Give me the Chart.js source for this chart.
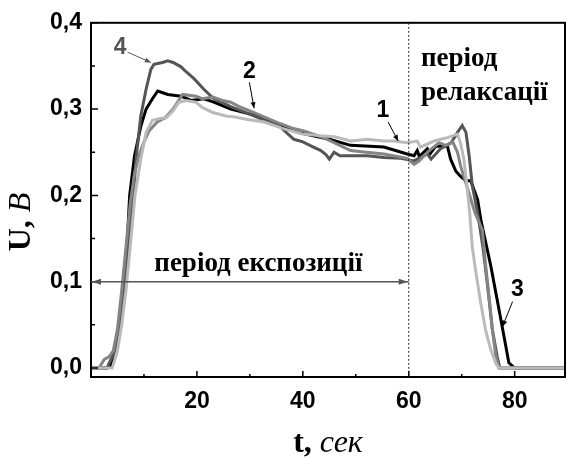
<!DOCTYPE html>
<html>
<head>
<meta charset="utf-8">
<script src="https://cdn.jsdelivr.net/npm/chart.js@4.4.0/dist/chart.umd.min.js"></script>
<style>
  body { margin: 0; background: #fff; }
  canvas { display: block; }
</style>
</head>
<body>
<canvas id="chart" width="566" height="459"></canvas>
<script>
// curve 1 (light gray)
const t1 = [0, 4, 5, 5.8, 6.6, 7.4, 8.3, 9.4, 10.4, 11.6, 13, 14.2, 15.5, 16.6, 18, 19.8, 21, 23, 25.5, 27, 29.6, 32.7, 36, 40, 43.4, 46, 49, 52.2, 55.3, 57.2, 59.7, 61.6, 62.2, 64.8, 67.3, 69.2, 69.8, 70.4, 70.8, 71.5, 72, 72.6, 73.6, 74.5, 75.5, 76.4, 77, 90];
const u1 = [0, 0, 0.02, 0.05, 0.09, 0.14, 0.2, 0.242, 0.273, 0.287, 0.289, 0.29, 0.298, 0.308, 0.31, 0.308, 0.302, 0.296, 0.292, 0.291, 0.288, 0.285, 0.278, 0.271, 0.269, 0.268, 0.263, 0.265, 0.263, 0.263, 0.261, 0.263, 0.256, 0.263, 0.267, 0.271, 0.26, 0.242, 0.222, 0.18, 0.14, 0.114, 0.075, 0.044, 0.021, 0.006, 0, 0];

// curve 2 (medium gray)
const t2 = [0, 1.5, 2.5, 3.4, 4.2, 5, 5.8, 6.6, 7.4, 8.2, 9, 10, 11, 12.5, 14, 15.5, 17.3, 19.8, 21, 23, 24.8, 26.4, 28, 30.8, 33, 35.8, 38, 40, 43.4, 45.3, 49, 52, 55.3, 59.7, 61, 62, 63.5, 65.7, 67, 68.3, 69.2, 69.8, 71, 72.5, 73.9, 74.5, 75.2, 75.8, 76.4, 77, 90];
const u2 = [0, 0, 0.01, 0.013, 0.02, 0.045, 0.09, 0.14, 0.19, 0.225, 0.245, 0.262, 0.275, 0.285, 0.29, 0.3, 0.317, 0.315, 0.312, 0.314, 0.31, 0.308, 0.303, 0.296, 0.29, 0.283, 0.278, 0.275, 0.268, 0.263, 0.252, 0.25, 0.248, 0.243, 0.236, 0.24, 0.25, 0.261, 0.258, 0.262, 0.25, 0.234, 0.21, 0.18, 0.16, 0.12, 0.08, 0.044, 0.015, 0, 0];

// curve 3 (black)
const t3 = [0, 3, 3.8, 4.7, 5.7, 6.6, 7.3, 8.2, 9.4, 10.4, 11.6, 12.6, 14.5, 17, 18.9, 21.3, 23.2, 26.4, 30.8, 34.5, 39, 45, 49, 55.3, 59.7, 61, 61.6, 62, 63.5, 64, 65.1, 67.3, 67.9, 68.9, 69.8, 70.8, 71.7, 73, 73.6, 75.5, 77.4, 78.9, 80, 90];
const u3 = [0, 0, 0.002, 0.03, 0.067, 0.118, 0.2, 0.245, 0.28, 0.3, 0.312, 0.321, 0.317, 0.315, 0.31, 0.312, 0.308, 0.3, 0.293, 0.283, 0.273, 0.265, 0.258, 0.256, 0.248, 0.246, 0.252, 0.245, 0.254, 0.248, 0.257, 0.257, 0.242, 0.228, 0.222, 0.217, 0.217, 0.195, 0.172, 0.118, 0.056, 0.006, 0, 0];

// curve 4 (dark gray)
const t4 = [0, 3, 4.5, 5.5, 6.3, 7.2, 8, 8.5, 9.4, 10.4, 11.3, 11.9, 13.5, 14.5, 15.5, 17, 18, 19.5, 21.3, 23.2, 26.4, 29.6, 32, 35.8, 38.3, 40, 42, 43.4, 44.4, 45, 45.9, 47, 49, 52.2, 55.3, 58.5, 61, 63.5, 64.2, 66, 68, 69.2, 70.1, 70.8, 71.4, 72, 73, 74, 74.9, 75.8, 76.7, 77.2, 90];
const u4 = [0, 0, 0.02, 0.055, 0.1, 0.15, 0.2, 0.242, 0.292, 0.323, 0.346, 0.352, 0.354, 0.356, 0.354, 0.349, 0.343, 0.335, 0.323, 0.312, 0.303, 0.295, 0.289, 0.279, 0.265, 0.262, 0.256, 0.252, 0.247, 0.242, 0.25, 0.246, 0.246, 0.246, 0.244, 0.243, 0.24, 0.248, 0.242, 0.254, 0.261, 0.273, 0.281, 0.273, 0.246, 0.211, 0.18, 0.14, 0.094, 0.044, 0.013, 0, 0];

const xTicks = [20, 40, 60, 80];
const xMinor = [10, 30, 50, 70];
const yTicks = [0, 0.1, 0.2, 0.3, 0.4];
const yMinor = [0.05, 0.15, 0.25, 0.35];

function pairs(t, u) {
    return t.map((x, i) => ({ x: x, y: u[i] }));
}

function line(label, t, u, color) {
    return {
        label: label,
        data: pairs(t, u),
        borderColor: color,
        borderWidth: 3,
        pointRadius: 0,
        showLine: true,
        fill: false,
        tension: 0
    };
}

// frame, inner ticks, annotations and axis titles
const decor = {
    id: 'decor',
    afterDraw(chart) {
        const ctx = chart.ctx;
        const xs = chart.scales.x;
        const ys = chart.scales.y;
        const a = chart.chartArea;
        const px = v => xs.getPixelForValue(v);
        const py = v => ys.getPixelForValue(v);

        ctx.save();
        ctx.strokeStyle = '#000';
        ctx.lineWidth = 2;
        ctx.strokeRect(a.left, a.top, a.right - a.left, a.bottom - a.top);

        ctx.lineWidth = 1.5;
        ctx.beginPath();
        xTicks.forEach(v => { ctx.moveTo(px(v), a.bottom); ctx.lineTo(px(v), a.bottom - 6); });
        xMinor.forEach(v => { ctx.moveTo(px(v), a.bottom); ctx.lineTo(px(v), a.bottom - 3); });
        yTicks.forEach(v => { ctx.moveTo(a.left, py(v)); ctx.lineTo(a.left + 7, py(v)); });
        yMinor.forEach(v => { ctx.moveTo(a.left, py(v)); ctx.lineTo(a.left + 4, py(v)); });
        ctx.stroke();

        // dotted boundary at t = 60
        ctx.setLineDash([2, 2]);
        ctx.lineWidth = 1;
        ctx.strokeStyle = '#222';
        ctx.beginPath();
        ctx.moveTo(px(60), a.top);
        ctx.lineTo(px(60), a.bottom);
        ctx.stroke();
        ctx.setLineDash([]);

        // double arrow for exposure period
        const ay = py(0.1);
        ctx.strokeStyle = '#555';
        ctx.lineWidth = 1.5;
        ctx.beginPath();
        ctx.moveTo(a.left, ay);
        ctx.lineTo(px(60), ay);
        ctx.stroke();
        head(ctx, a.left + 9, ay, a.left + 1, ay, 9, 3);
        head(ctx, px(60) - 9, ay, px(60) - 1, ay, 9, 3);

        ctx.fillStyle = '#000';
        ctx.font = 'bold 27px "Liberation Serif"';
        ctx.textAlign = 'center';
        ctx.textBaseline = 'alphabetic';
        ctx.fillText('період експозиції', px(31.6), py(0.1125));

        ctx.textAlign = 'left';
        ctx.fillText('період', px(62.3), py(0.350));
        ctx.fillText('релаксації', px(62.3), py(0.311));

        // curve numbers with leaders
        const marks = [
            ['4', '#555', 5.5, 0.371, 6.9, 0.366, 11.3, 0.354],
            ['2', '#000', 29.9, 0.343, 29.9, 0.331, 30.8, 0.301],
            ['1', '#000', 55.1, 0.298, 56.1, 0.285, 58.0, 0.263],
            ['3', '#000', 80.5, 0.091, 79.6, 0.077, 77.7, 0.048]
        ];
        ctx.font = 'bold 23px "Liberation Sans"';
        ctx.textAlign = 'center';
        ctx.textBaseline = 'middle';
        marks.forEach(m => {
            ctx.fillStyle = m[1];
            ctx.fillText(m[0], px(m[2]), py(m[3]));
            ctx.strokeStyle = m[1];
            ctx.lineWidth = 1;
            ctx.beginPath();
            ctx.moveTo(px(m[4]), py(m[5]));
            ctx.lineTo(px(m[6]), py(m[7]));
            ctx.stroke();
            head(ctx, px(m[4]), py(m[5]), px(m[6]), py(m[7]), 6, 2.5);
        });

        // axis titles
        ctx.fillStyle = '#000';
        ctx.textBaseline = 'middle';
        ctx.textAlign = 'left';
        mixed(ctx, 't, ', 'сек', (a.left + a.right) / 2, 444);
        ctx.save();
        ctx.translate(22, 222);
        ctx.rotate(-Math.PI / 2);
        mixed(ctx, 'U, ', 'В', 0, 0);
        ctx.restore();
        ctx.restore();
    }
};

function head(ctx, x0, y0, x1, y1, len, half) {
    const ang = Math.atan2(y1 - y0, x1 - x0);
    ctx.beginPath();
    ctx.moveTo(x1, y1);
    ctx.lineTo(x1 - len * Math.cos(ang) + half * Math.sin(ang), y1 - len * Math.sin(ang) - half * Math.cos(ang));
    ctx.lineTo(x1 - len * Math.cos(ang) - half * Math.sin(ang), y1 - len * Math.sin(ang) + half * Math.cos(ang));
    ctx.closePath();
    ctx.fillStyle = ctx.strokeStyle;
    ctx.fill();
}

function mixed(ctx, boldPart, italicPart, cx, cy) {
    const f1 = 'bold 32px "Liberation Serif"';
    const f2 = 'italic 32px "Liberation Serif"';
    ctx.font = f1;
    const w1 = ctx.measureText(boldPart).width;
    ctx.font = f2;
    const w2 = ctx.measureText(italicPart).width;
    const x0 = cx - (w1 + w2) / 2;
    ctx.font = f1;
    ctx.fillText(boldPart, x0, cy);
    ctx.font = f2;
    ctx.fillText(italicPart, x0 + w1, cy);
}

const chart = new Chart(document.getElementById('chart'), {
    type: 'scatter',
    data: {
        datasets: [
            line('1', t1, u1, '#bababa'),
            line('2', t2, u2, '#858585'),
            line('4', t4, u4, '#555555'),
            line('3', t3, u3, '#000000')
        ]
    },
    options: {
        responsive: false,
        animation: false,
        devicePixelRatio: 1,
        layout: { padding: { top: 22, right: 1, left: 0, bottom: 0 } },
        plugins: { legend: { display: false }, tooltip: { enabled: false } },
        scales: {
            x: {
                type: 'linear',
                min: 0,
                max: 89.5,
                afterBuildTicks: s => { s.ticks = xTicks.map(v => ({ value: v })); },
                afterFit: s => { s.height = 82; },
                grid: { display: false, drawTicks: false },
                border: { display: false },
                ticks: {
                    color: '#000',
                    padding: 11,
                    font: { family: '"Liberation Sans"', size: 23, weight: 'bold' },
                    callback: v => String(v)
                }
            },
            y: {
                type: 'linear',
                min: -0.0104,
                max: 0.4,
                afterBuildTicks: s => { s.ticks = yTicks.map(v => ({ value: v })); },
                afterFit: s => { s.width = 91; },
                grid: { display: false, drawTicks: false },
                border: { display: false },
                ticks: {
                    color: '#000',
                    padding: 9,
                    font: { family: '"Liberation Sans"', size: 23, weight: 'bold' },
                    callback: v => v.toFixed(1).replace('.', ',')
                }
            }
        }
    },
    plugins: [decor]
});
</script>
</body>
</html>
